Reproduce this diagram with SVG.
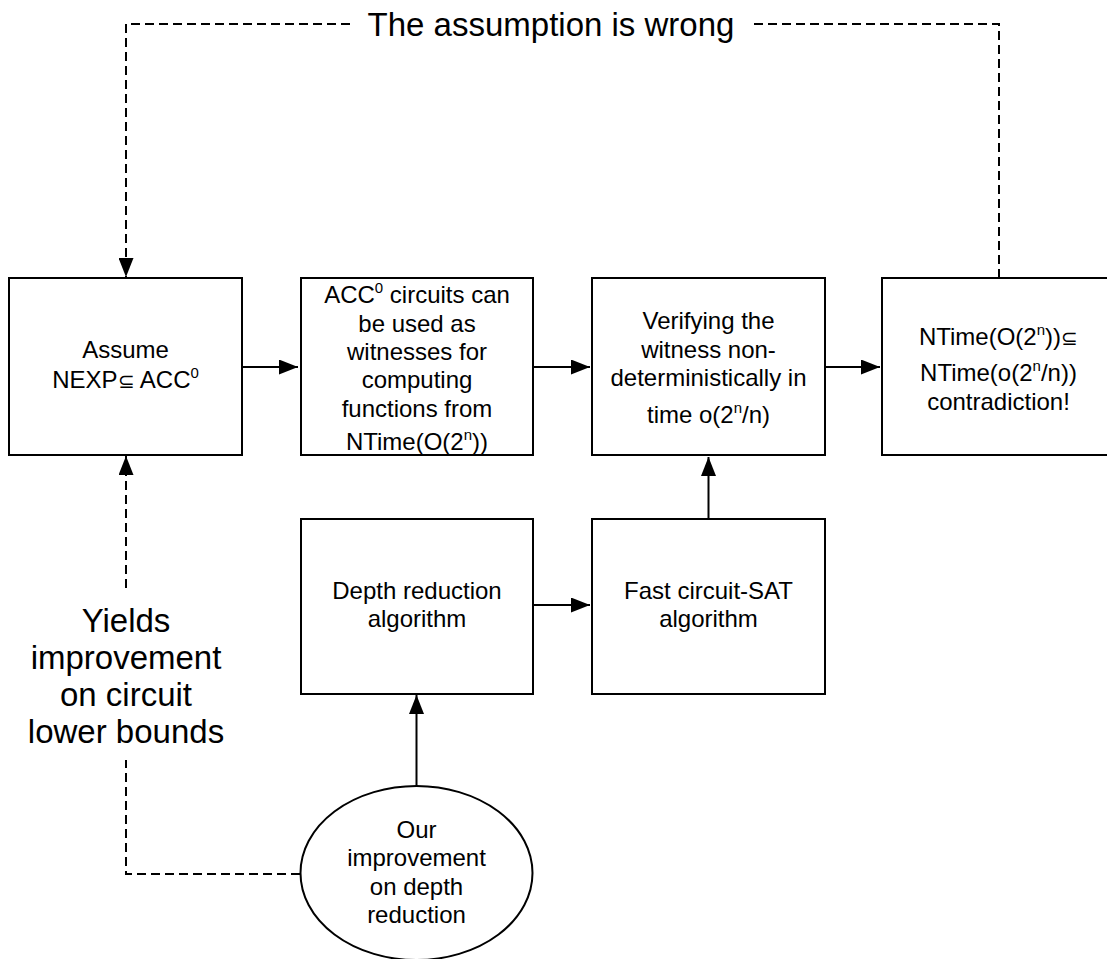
<svg xmlns="http://www.w3.org/2000/svg" width="1107" height="959" viewBox="0 0 1107 959">
<style>
.box{fill:#fff;stroke:#000;stroke-width:2}
.t{font-family:"Liberation Sans",Arial,sans-serif;font-size:24px;fill:#000;text-anchor:middle}
.big{font-family:"Liberation Sans",Arial,sans-serif;font-size:33px;fill:#000;text-anchor:middle}
.sup{font-size:15px}
.c{fill:none;stroke:#000;stroke-width:2}
.d{fill:none;stroke:#000;stroke-width:2;stroke-dasharray:9 5}
</style>
<defs>
<marker id="ah" markerUnits="userSpaceOnUse" markerWidth="19" markerHeight="15" refX="19" refY="7.5" orient="auto">
<path d="M0,0 L19,7.5 L0,15 z" fill="#000"/>
</marker>
</defs>
<rect width="1107" height="959" fill="#fff"/>
<g id="connectors">
<line class="c" x1="242" y1="367" x2="298" y2="367" marker-end="url(#ah)"/>
<line class="c" x1="533" y1="367" x2="590" y2="367" marker-end="url(#ah)"/>
<line class="c" x1="825" y1="367" x2="880" y2="367" marker-end="url(#ah)"/>
<line class="c" x1="533" y1="605" x2="590" y2="605" marker-end="url(#ah)"/>
<line class="c" x1="708.5" y1="519" x2="708.5" y2="457" marker-end="url(#ah)"/>
<line class="c" x1="416.5" y1="786" x2="416.5" y2="695" marker-end="url(#ah)"/>
<path class="d" d="M999,278 V24 H752"/>
<path class="d" d="M350,24 H126 V277" marker-end="url(#ah)"/>
<path class="d" d="M300,874 H126 V760"/>
<path class="d" d="M126,588 V456" marker-end="url(#ah)"/>
<text class="big" x="551" y="36">The assumption is wrong</text>
<text class="big" x="126" y="632">Yields</text>
<text class="big" x="126" y="669">improvement</text>
<text class="big" x="126" y="706">on circuit</text>
<text class="big" x="126" y="743">lower bounds</text>
</g>
<g id="assume">
<rect class="box" x="9" y="278" width="233" height="177"/>
<text class="t" x="125.5" y="358">Assume</text>
<text class="t" x="125.5" y="388">NEXP<tspan font-size="20">⊆</tspan> ACC<tspan class="sup" dy="-10">0</tspan></text>
</g>
<g id="witness">
<rect class="box" x="301" y="278" width="232" height="177"/>
<text class="t" x="417" y="303">ACC<tspan class="sup" dy="-10">0</tspan><tspan dy="10"> circuits can</tspan></text>
<text class="t" x="417" y="332">be used as</text>
<text class="t" x="417" y="360">witnesses for</text>
<text class="t" x="417" y="388">computing</text>
<text class="t" x="417" y="417">functions from</text>
<text class="t" x="417" y="450">NTime(O(2<tspan class="sup" dy="-10">n</tspan><tspan dy="10">))</tspan></text>
</g>
<g id="verify">
<rect class="box" x="592" y="278" width="233" height="177"/>
<text class="t" x="708.5" y="329">Verifying the</text>
<text class="t" x="708.5" y="358">witness non-</text>
<text class="t" x="708.5" y="386">deterministically in</text>
<text class="t" x="708.5" y="423">time o(2<tspan class="sup" dy="-10">n</tspan><tspan dy="10">/n)</tspan></text>
</g>
<g id="contradiction">
<rect class="box" x="882" y="278" width="234" height="177"/>
<text class="t" x="998.5" y="345">NTime(O(2<tspan class="sup" dy="-10">n</tspan><tspan dy="10">))</tspan><tspan font-size="20">⊆</tspan></text>
<text class="t" x="998.5" y="381">NTime(o(2<tspan class="sup" dy="-10">n</tspan><tspan dy="10">/n))</tspan></text>
<text class="t" x="998.5" y="410">contradiction!</text>
</g>
<g id="depth">
<rect class="box" x="301" y="519" width="232" height="175"/>
<text class="t" x="417" y="599">Depth reduction</text>
<text class="t" x="417" y="627">algorithm</text>
</g>
<g id="fastsat">
<rect class="box" x="592" y="519" width="233" height="175"/>
<text class="t" x="708.5" y="599">Fast circuit-SAT</text>
<text class="t" x="708.5" y="627">algorithm</text>
</g>
<g id="improvement">
<ellipse class="box" cx="416.5" cy="873" rx="116" ry="87"/>
<text class="t" x="416.5" y="838">Our</text>
<text class="t" x="416.5" y="866">improvement</text>
<text class="t" x="416.5" y="895">on depth</text>
<text class="t" x="416.5" y="923">reduction</text>
</g>
</svg>
